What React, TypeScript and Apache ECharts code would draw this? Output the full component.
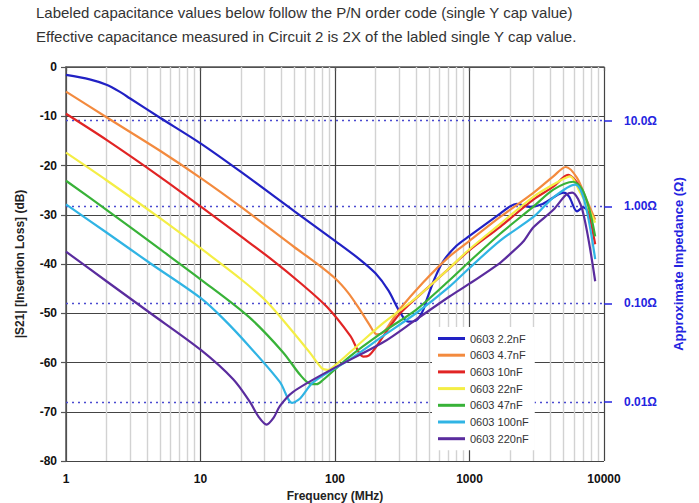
import React, { useEffect, useRef } from "react";
import * as echarts from "echarts";

const titleLines = [
  "Labeled capacitance values below follow the P/N order code (single Y cap value)",
  "Effective capacitance measured in Circuit 2 is 2X of the labled single Y cap value.",
];

const seriesNames = [
  "0603 2.2nF",
  "0603 4.7nF",
  "0603 10nF",
  "0603 22nF",
  "0603 47nF",
  "0603 100nF",
  "0603 220nF",
];
const seriesColors = ["#2121c4", "#f38a3e", "#e12424", "#f4ee45", "#38b238", "#30b4e4", "#5a2c9e"];

const freq2p2 = [1, 1.5, 2, 2.5, 3, 5, 10, 20, 50, 100, 150, 200, 250, 300, 350, 400, 450, 480, 550, 635, 800, 1000, 1700, 2000, 2250, 2800, 3500, 4500, 5000, 5500, 6300, 7000, 7800, 8500];
const db2p2 = [-1.6, -2.5, -3.6, -5.0, -6.4, -10.3, -15.5, -21.3, -29.3, -35.3, -38.9, -41.9, -45.4, -49.5, -51.7, -51.5, -49.5, -47.3, -43.0, -39.5, -36.3, -34.3, -29.7, -28.3, -27.8, -28.4, -27.8, -26.0, -25.5, -26.3, -29.3, -28.5, -29.5, -31.0];

const freq4p7 = [1, 2, 5, 10, 20, 50, 70, 100, 125, 150, 180, 205, 230, 260, 300, 450, 700, 1000, 1700, 3000, 4200, 5200, 6300, 7400, 8600];
const db4p7 = [-5.0, -10.2, -17.0, -22.5, -28.4, -36.6, -39.5, -42.9, -45.8, -48.9, -52.3, -54.3, -53.8, -51.8, -49.3, -43.8, -38.6, -35.3, -30.4, -25.5, -22.2, -20.3, -22.5, -26.9, -31.0];

const freq10 = [1, 2, 5, 10, 20, 35, 55, 87, 130, 162, 178, 200, 228, 305, 500, 700, 1000, 1700, 3000, 4200, 5400, 6600, 7600, 8600];
const db10 = [-9.5, -14.8, -22.3, -28.3, -34.4, -39.4, -43.8, -48.7, -54.6, -58.8, -58.6, -57.0, -54.7, -50.0, -44.6, -41.0, -37.2, -32.4, -26.9, -24.3, -21.9, -24.3, -29.0, -36.0];

const freq22 = [1, 2, 5, 10, 20, 31, 48, 65, 80, 88, 100, 145, 228, 405, 710, 1000, 1700, 3000, 4500, 5600, 6600, 7600, 8600];
const db22 = [-17.4, -23.0, -30.7, -36.8, -43.1, -47.6, -53.6, -58.0, -61.2, -61.5, -60.6, -56.7, -52.0, -46.8, -40.8, -37.0, -31.8, -26.3, -23.4, -22.2, -25.3, -28.5, -31.6];

const freq47 = [1, 2, 5, 10, 23, 41, 55, 65, 73, 81, 130, 228, 405, 710, 1000, 1700, 3000, 4200, 5900, 6900, 7800, 8600];
const db47 = [-23.1, -29.0, -37.0, -43.1, -50.8, -57.9, -62.5, -64.3, -64.4, -63.6, -58.7, -53.8, -49.2, -43.3, -39.5, -33.8, -28.3, -24.9, -23.3, -24.9, -29.0, -34.4];

const freq100 = [1, 2, 4.2, 10, 15, 23, 39, 48, 55, 69, 130, 228, 405, 710, 1000, 1700, 3000, 4200, 6100, 7200, 8600];
const db100 = [-27.9, -33.6, -39.8, -46.9, -51.3, -56.7, -64.0, -68.2, -67.3, -64.0, -59.3, -54.6, -49.9, -44.6, -40.8, -35.2, -30.4, -26.5, -23.9, -27.5, -39.0];

const freq220 = [1, 2, 4.2, 10, 17.5, 23.3, 27, 31, 35, 39, 48.6, 96, 228, 405, 710, 1000, 1700, 2000, 2500, 3000, 4200, 5200, 5800, 6900, 8600];
const db220 = [-37.5, -43.5, -49.9, -57.4, -63.4, -68.0, -71.0, -72.6, -71.2, -68.8, -66.0, -61.3, -55.9, -51.2, -46.6, -44.0, -39.7, -38.0, -35.5, -32.5, -29.0, -26.0, -25.5, -29.0, -43.5];

const seriesFreqs = [freq2p2, freq4p7, freq10, freq22, freq47, freq100, freq220];
const seriesDb = [db2p2, db4p7, db10, db22, db47, db100, db220];

const xMin = 1;
const xMax = 10000;
const yMin = -80;
const yMax = 0;
const yInterval = 10;

const minorGridFreqs = [
  2, 3, 4, 5, 6, 7, 8, 9,
  20, 30, 40, 50, 60, 70, 80, 90,
  200, 300, 400, 500, 600, 700, 800, 900,
  2000, 3000, 4000, 5000, 6000, 7000, 8000, 9000,
];

const impedanceDb = [-10.9, -28.3, -48.0, -68.0];
const impedanceLabels = ["10.0Ω", "1.00Ω", "0.10Ω", "0.01Ω"];

const FONT = "'Liberation Sans', Arial, Helvetica, sans-serif";
const BLUE = "#2424e0";

export default function App() {
  const ref = useRef<HTMLDivElement>(null);

  useEffect(() => {
    if (!ref.current) return;
    const chart = echarts.init(ref.current, null, { renderer: "svg" });

    const curveSeries = seriesNames.map((name, si) => ({
      name,
      type: "line",
      data: seriesFreqs[si].map((f, i) => [f, seriesDb[si][i]]),
      smooth: 0.3,
      symbol: "none",
      showSymbol: false,
      z: 5,
      lineStyle: { color: seriesColors[si], width: 2.2 },
      itemStyle: { color: seriesColors[si] },
    }));

    const option: any = {
      animation: false,
      backgroundColor: "#ffffff",
      title: {
        text: titleLines.join("\n"),
        left: 36,
        top: 1,
        padding: 0,
        textStyle: {
          fontFamily: FONT,
          fontSize: 15,
          fontWeight: "normal",
          color: "#333333",
          lineHeight: 23.5,
        },
      },
      grid: { left: 66, right: 95, top: 67, bottom: 42, containLabel: false, outerBoundsMode: "none" },
      legend: {
        data: seriesNames,
        orient: "vertical",
        left: 432,
        top: 327,
        icon: "rect",
        itemWidth: 27,
        itemHeight: 3,
        itemGap: 3.7,
        padding: [5, 6, 5, 6],
        backgroundColor: "#ffffff",
        z: 10,
        textStyle: { fontFamily: FONT, fontSize: 11, color: "#333333", lineHeight: 13 },
      },
      xAxis: {
        type: "log",
        logBase: 10,
        min: xMin,
        max: xMax,
        name: "Frequency (MHz)",
        nameLocation: "middle",
        nameGap: 25,
        nameTextStyle: { fontFamily: FONT, fontWeight: "bold", fontSize: 12, color: "#222" },
        axisLine: { lineStyle: { color: "#555", width: 1.5 } },
        axisTick: { show: true, length: 4, lineStyle: { color: "#555", width: 1.2 } },
        minorTick: { show: false },
        splitLine: { show: true, lineStyle: { color: "#444", width: 1.2 } },
        axisLabel: {
          fontFamily: FONT,
          fontWeight: "bold",
          fontSize: 12,
          color: "#111",
          margin: 12,
          formatter: (v: number) => String(Math.round(v)),
        },
      },
      yAxis: [
        {
          type: "value",
          min: yMin,
          max: yMax,
          interval: yInterval,
          name: "|S21| [Insertion Loss] (dB)",
          nameLocation: "middle",
          nameRotate: 90,
          nameGap: 40,
          nameTextStyle: { fontFamily: FONT, fontWeight: "bold", fontSize: 12, color: "#222" },
          axisLine: { show: true, lineStyle: { color: "#555", width: 1.5 } },
          axisTick: { show: true, length: 5, lineStyle: { color: "#555", width: 1.2 } },
          splitLine: { show: true, lineStyle: { color: "#444", width: 1.2 } },
          axisLabel: { fontFamily: FONT, fontWeight: "bold", fontSize: 12, color: "#111", margin: 9 },
        },
        {
          type: "value",
          position: "right",
          min: yMin,
          max: yMax,
          interval: yInterval,
          name: "Approximate Impedance (Ω)",
          nameLocation: "middle",
          nameRotate: 90,
          nameGap: 68,
          nameTextStyle: { fontFamily: FONT, fontWeight: "bold", fontSize: 13, color: BLUE },
          axisLine: { show: false },
          splitLine: { show: false },
          axisTick: {
            show: true,
            customValues: impedanceDb,
            length: 8,
            lineStyle: { color: BLUE, width: 1.5 },
          },
          axisLabel: {
            customValues: impedanceDb,
            margin: 20,
            fontFamily: FONT,
            fontWeight: "bold",
            fontSize: 12,
            color: BLUE,
            formatter: (v: number) => {
              const idx = impedanceDb.findIndex((d) => Math.abs(d - v) < 0.01);
              return idx >= 0 ? impedanceLabels[idx] : "";
            },
          },
        },
      ],
      series: [
        {
          name: "_minorGrid",
          type: "line",
          data: [],
          silent: true,
          z: 1,
          markLine: {
            silent: true,
            symbol: ["none", "none"],
            label: { show: false },
            lineStyle: { color: "#d2d2d2", width: 1.4, type: "solid" },
            data: minorGridFreqs.map((v) => ({ xAxis: v })),
          },
        },
        {
          name: "_impedance",
          type: "line",
          data: [],
          silent: true,
          z: 2,
          markLine: {
            silent: true,
            symbol: ["none", "none"],
            label: { show: false },
            lineStyle: { color: "#4a4ad0", width: 1.3, type: [2, 4] },
            data: impedanceDb.map((v) => ({ yAxis: v })),
          },
        },
        ...curveSeries,
      ],
    };

    chart.setOption(option);
    return () => chart.dispose();
  }, []);

  return (
    <div
      ref={ref}
      style={{ position: "fixed", left: 0, top: 0, width: 699, height: 503, background: "#fff" }}
    />
  );
}
